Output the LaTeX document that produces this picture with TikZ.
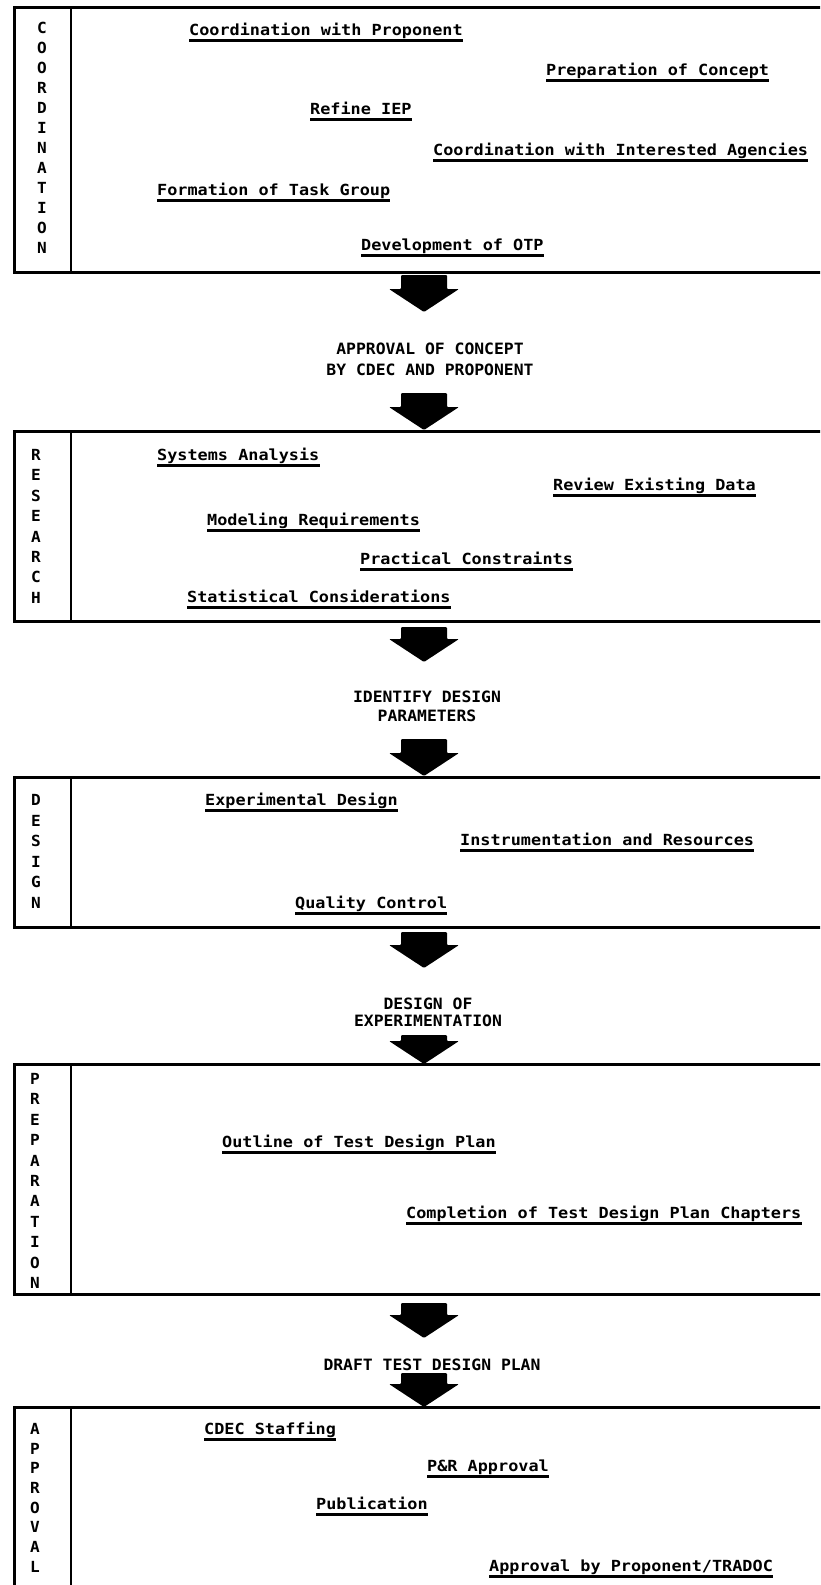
\documentclass[tikz,border=0pt]{standalone}
\usepackage{fontspec}
\newfontfamily\lpfont{DejaVu Sans Mono}[FakeStretch=1.1]
\newfontfamily\hdfont{DejaVu Sans Mono}[FakeStretch=1.05]

% one task entry: a node with an underline drawn under its baseline
\newcommand\activity[4]{%
  \node[item] (#1) at (#2,-#3) {#4};
  \draw[uline] ([yshift=-5pt]#1.base west) -- ([yshift=-5pt]#1.base east);
}
% a phase name written downwards, one letter per line
\newcommand\sideword[5]{%
  \foreach \ch [count=\i from 0] in {#5}
    \node[sideletter] (#1-\i) at (#2,{-(#3)-\i*(#4)}) {\ch};
}

\begin{document}
\begin{tikzpicture}[x=1pt,y=1pt,
  frame/.style={draw=black, line width=3pt, inner sep=0pt, outer sep=0pt, anchor=north west},
  divider/.style={draw=black, line width=2.5pt},
  item/.style={anchor=base west, inner sep=0pt, font=\lpfont\bfseries\fontsize{15.3}{18}\selectfont},
  uline/.style={draw=black, line width=2.2pt},
  heading/.style={anchor=base, inner sep=0pt, font=\hdfont\bfseries\fontsize{15.6}{18}\selectfont},
  sideletter/.style={inner sep=0pt, text height=10.9pt, text depth=0pt, font=\hdfont\bfseries\fontsize{15.3}{18}\selectfont},
  pics/blockarrow/.style={code={
    \fill[black, rounded corners=1pt] (-23,0) -- (23,0) -- (23,{-(#1-23)}) -- (35,{-(#1-23)})
      -- (0,-#1) -- (-35,{-(#1-23)}) -- (-23,{-(#1-23)}) -- cycle;}}
]
\fill[white] (0,0) rectangle (820,-1585);
\useasboundingbox (0,0) rectangle (820,-1585);
\clip (0,0) rectangle (820,-1585);

% ---------- phase frames ----------
\node[frame, minimum width=830pt, minimum height=265pt] (coord) at (14,-7) {};
\node[frame, minimum width=830pt, minimum height=190pt] (research) at (14,-431) {};
\node[frame, minimum width=830pt, minimum height=150pt] (design) at (14,-777) {};
\node[frame, minimum width=830pt, minimum height=230pt] (prep) at (14,-1064) {};
\node[frame, minimum width=830pt, minimum height=200pt] (approval) at (14,-1407) {};

\foreach \b in {coord,research,design,prep,approval}
  \draw[divider] ([xshift=57pt]\b.north west) -- ([xshift=57pt]\b.south west);

% ---------- phase names ----------
\sideword{sc}{42}{28}{20}{C,O,O,R,D,I,N,A,T,I,O,N}
\sideword{sr}{36}{455}{20.4}{R,E,S,E,A,R,C,H}
\sideword{sd}{36}{800}{20.6}{D,E,S,I,G,N}
\sideword{sp}{35}{1079}{20.4}{P,R,E,P,A,R,A,T,I,O,N}
\sideword{sa}{35}{1429}{19.7}{A,P,P,R,O,V,A,L}

% ---------- coordination ----------
\activity{c1}{189}{35.5}{Coordination with Proponent}
\activity{c2}{546}{75.5}{Preparation of Concept}
\activity{c3}{310}{114.5}{Refine IEP}
\activity{c4}{433}{155.5}{Coordination with Interested Agencies}
\activity{c5}{157}{195.5}{Formation of Task Group}
\activity{c6}{361}{250.5}{Development of OTP}

% ---------- research ----------
\activity{r1}{157}{460.5}{Systems Analysis}
\activity{r2}{553}{490.5}{Review Existing Data}
\activity{r3}{207}{525.5}{Modeling Requirements}
\activity{r4}{360}{564.5}{Practical Constraints}
\activity{r5}{187}{602.5}{Statistical Considerations}

% ---------- design ----------
\activity{d1}{205}{805.5}{Experimental Design}
\activity{d2}{460}{845.5}{Instrumentation and Resources}
\activity{d3}{295}{908.5}{Quality Control}

% ---------- preparation ----------
\activity{p1}{222}{1147.5}{Outline of Test Design Plan}
\activity{p2}{406}{1218.5}{Completion of Test Design Plan Chapters}

% ---------- approval ----------
\activity{a1}{204}{1434.5}{CDEC Staffing}
\activity{a2}{427}{1471.5}{P\&R Approval}
\activity{a3}{316}{1509.5}{Publication}
\activity{a4}{489}{1571.5}{Approval by Proponent/TRADOC}

% ---------- milestones between phases ----------
\node[heading] (m1a) at (430,-354.5) {APPROVAL OF CONCEPT};
\node[heading] (m1b) at (430,-375.5) {BY CDEC AND PROPONENT};
\node[heading] (m2a) at (427,-702.5) {IDENTIFY DESIGN};
\node[heading] (m2b) at (427,-721.5) {PARAMETERS};
\node[heading] (m3a) at (428,-1009.5) {DESIGN OF};
\node[heading] (m3b) at (428,-1026.5) {EXPERIMENTATION};
\node[heading] (m4) at (432,-1370.5) {DRAFT TEST DESIGN PLAN};

% ---------- block arrows ----------
\pic at (424,-275) {blockarrow=37};
\pic at (424,-393) {blockarrow=37};
\pic at (424,-627) {blockarrow=35};
\pic at (424,-739) {blockarrow=37};
\pic at (424,-932) {blockarrow=36};
\pic at (424,-1035) {blockarrow=29};
\pic at (424,-1303) {blockarrow=35};
\pic at (424,-1373) {blockarrow=34};
\end{tikzpicture}
\end{document}
